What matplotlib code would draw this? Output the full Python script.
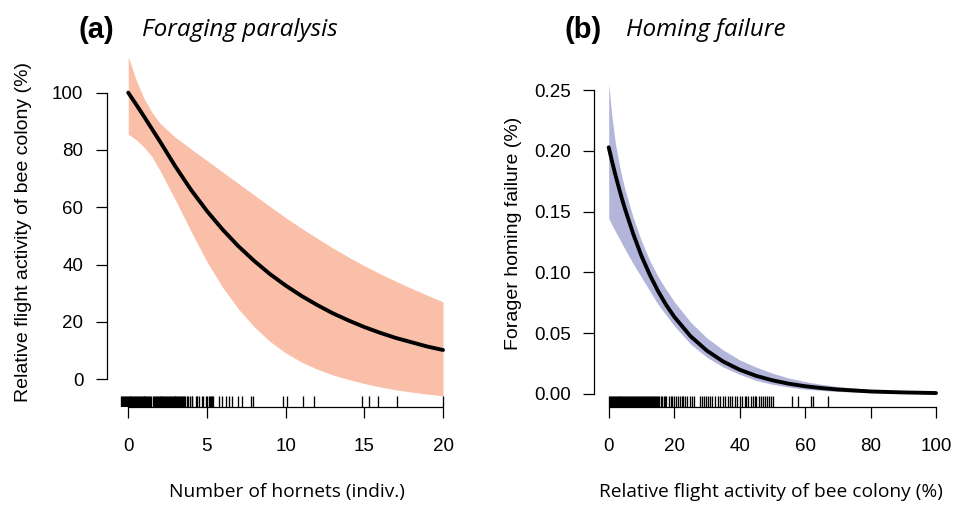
import matplotlib
matplotlib.use("Agg")
import matplotlib.pyplot as plt
from matplotlib.ticker import FormatStrFormatter

plt.rcParams['font.family'] = ['Liberation Sans', 'DejaVu Sans']

# ---- (a) foraging paralysis: fitted flight activity vs hornet number ----
hornets = [0, 0.5, 1, 1.5, 2, 3, 4, 5, 6, 7, 8, 9, 10,
           11, 12, 13, 14, 15, 16, 17, 18, 19, 20]
activity_fit = [100, 95.9, 91.7, 87.4, 83.1, 74.2, 66.0, 58.7, 52.2, 46.4, 41.3, 36.7, 32.7,
                29.1, 25.9, 23.0, 20.5, 18.2, 16.2, 14.4, 12.9, 11.4, 10.2]
activity_hi = [112.5, 104.5, 98.0, 93.2, 89.4, 84.4, 80.3, 76.3, 72.3, 68.3, 64.3, 60.3, 56.4,
               52.7, 49.2, 45.8, 42.6, 39.6, 36.8, 34.2, 31.7, 29.3, 27.0]
activity_lo = [85.5, 83.6, 81.0, 77.7, 73.0, 62.5, 51.5, 41.0, 32.0, 24.5, 18.3, 13.2, 9.2,
               6.0, 3.5, 1.5, -0.1, -1.5, -2.7, -3.7, -4.5, -5.2, -5.8]

# observed hornet counts (jittered), shown as rug
hornet_obs = [
    -0.46, -0.40, -0.34, -0.28, -0.22, -0.16, -0.10, -0.04, 0.02, 0.08, 0.14, 0.20, 0.26, 0.32, 0.38, 0.44, 0.47,
    0.55, 0.61, 0.67, 0.73, 0.79, 0.85, 0.91, 0.97, 1.03, 1.09, 1.15, 1.21, 1.27, 1.33, 1.39, 1.44,
    1.57, 1.63, 1.69, 1.75, 1.81, 1.87, 1.93, 1.99, 2.05, 2.11, 2.17, 2.23, 2.29, 2.35, 2.41, 2.47, 2.50,
    2.58, 2.64, 2.70, 2.76, 2.82, 2.88, 2.94, 3.00, 3.06, 3.12, 3.18, 3.24, 3.30, 3.36, 3.39,
    3.46, 3.54, 3.62, 3.72, 3.80, 3.92, 4.02, 4.08, 4.30, 4.40, 4.52, 4.68, 4.76, 4.92, 5.02,
    5.10, 5.20, 5.26, 5.34, 5.40, 5.76, 5.97, 6.18, 6.39, 6.60, 6.99, 7.20, 7.79, 7.90,
    9.84, 10.10, 11.10, 11.79, 14.88, 15.30, 15.87, 17.10, 20.0]

# ---- (b) homing failure vs flight activity ----
flight = [0, 1, 2, 3, 4, 5, 7.5, 10, 12.5, 15, 17.5, 20, 25, 30, 35, 40, 45, 50,
          55, 60, 65, 70, 80, 90, 100]
homing_fit = [0.203, 0.1916, 0.1808, 0.1707, 0.1611, 0.1521, 0.1316, 0.1136, 0.0983, 0.0849,
              0.0734, 0.0635, 0.0474, 0.0355, 0.0265, 0.0198, 0.0148, 0.0111,
              0.0083, 0.0062, 0.0047, 0.0035, 0.0019, 0.0011, 0.0006]
homing_hi = [0.255, 0.228, 0.207, 0.192, 0.179, 0.168, 0.145, 0.126, 0.110, 0.097,
             0.086, 0.076, 0.059, 0.046, 0.036, 0.028, 0.022, 0.017,
             0.013, 0.010, 0.0078, 0.006, 0.0035, 0.0021, 0.0012]
homing_lo = [0.1445, 0.139, 0.134, 0.129, 0.124, 0.119, 0.107, 0.096, 0.085, 0.074,
             0.065, 0.056, 0.041, 0.030, 0.022, 0.016, 0.011, 0.0078,
             0.0055, 0.0038, 0.0027, 0.0019, 0.0009, 0.0004, 0.0002]

flight_obs = [
    0.0, 0.3, 0.6, 0.9, 1.2, 1.5, 1.8, 2.1, 2.4, 2.7, 3.0, 3.3, 3.6, 3.9, 4.2, 4.5, 4.8,
    5.1, 5.4, 5.7, 6.0, 6.3, 6.6, 6.9, 7.2, 7.5, 7.8, 8.1, 8.4, 8.7, 9.0, 9.3, 9.6, 9.9,
    10.2, 10.5, 10.8, 11.1, 11.4, 11.7, 12.0, 12.3, 12.6, 12.9, 13.2, 13.5, 13.8, 14.1,
    14.4, 14.7, 15.0,
    15.5, 15.9, 16.3, 16.8, 17.2, 17.6, 18.4, 18.9, 19.4, 19.9, 20.5, 21.1, 21.8, 22.3,
    22.8, 23.4, 24.0, 24.8, 25.4, 26.2, 27.9, 28.6, 29.2, 29.7, 30.2, 30.9, 31.6, 32.4,
    33.3, 34.0, 34.8, 35.6, 36.3, 37.0, 37.8, 38.6, 39.3, 40.1, 40.6, 41.6, 42.1, 42.6,
    43.4, 44.1, 44.6, 45.1, 45.8, 46.4, 47.1, 47.8, 48.4, 49.0, 49.6, 50.3,
    55.9, 57.9, 61.7, 62.5, 67.1]

W, H = 961, 505
fig = plt.figure(figsize=(W / 100, H / 100), dpi=100)


def style_axis(ax):
    for s in ['top', 'right']:
        ax.spines[s].set_visible(False)
    for s in ['left', 'bottom']:
        ax.spines[s].set_linewidth(0.9)
    ax.tick_params(direction='out', length=8, width=0.9, labelsize=13.5)
    ax.tick_params(axis='x', pad=14)
    ax.tick_params(axis='y', pad=9)


# panel a
ax1 = fig.add_axes([107 / W, 98 / H, 348.6 / W, 364.2 / H])
ax1.fill_between(hornets, activity_lo, activity_hi, color='#F9BFA8', lw=0)
ax1.plot(hornets, activity_fit, color='black', lw=2.8, solid_capstyle='round')
ax1.vlines(hornet_obs, 0, 0.03, transform=ax1.get_xaxis_transform(), color='black', lw=0.95)
ax1.set_xlim(-1.35, 20.8)
ax1.set_ylim(-9.7, 117.4)
ax1.set_xticks([0, 5, 10, 15, 20])
ax1.set_yticks([0, 20, 40, 60, 80, 100])
ax1.spines['bottom'].set_bounds(0, 20)
ax1.spines['left'].set_bounds(0, 100)
style_axis(ax1)

# panel b
ax2 = fig.add_axes([594.3 / W, 98 / H, 354.8 / W, 364.2 / H])
ax2.fill_between(flight, homing_lo, homing_hi, color='#B4B5DB', lw=0)
ax2.plot(flight, homing_fit, color='black', lw=2.8, solid_capstyle='round')
ax2.vlines(flight_obs, 0, 0.03, transform=ax2.get_xaxis_transform(), color='black', lw=0.95)
ax2.set_xlim(-4.4, 104)
ax2.set_ylim(-0.0109, 0.2891)
ax2.set_xticks([0, 20, 40, 60, 80, 100])
ax2.set_yticks([0, 0.05, 0.10, 0.15, 0.20, 0.25])
ax2.yaxis.set_major_formatter(FormatStrFormatter('%.2f'))
ax2.spines['bottom'].set_bounds(0, 100)
ax2.spines['left'].set_bounds(0, 0.25)
style_axis(ax2)

# axis titles
fig.text(24 / W, 1 - 232 / H, 'Relative flight activity of bee colony (%)',
         rotation=90, ha='center', va='center', fontsize=14)
fig.text(513 / W, 1 - 233 / H, 'Forager homing failure (%)',
         rotation=90, ha='center', va='center', fontsize=14)
fig.text(287 / W, 1 - 497 / H, 'Number of hornets (indiv.)',
         ha='center', va='baseline', fontsize=13.8, family='Open Sans')
fig.text(771 / W, 1 - 497 / H, 'Relative flight activity of bee colony (%)',
         ha='center', va='baseline', fontsize=13.8, family='Open Sans')

# panel headings
fig.text(79 / W, 1 - 37.5 / H, '(a)', ha='left', va='baseline', fontsize=21, fontweight='bold')
fig.text(142 / W, 1 - 36 / H, 'Foraging paralysis', ha='left', va='baseline',
         fontsize=17.5, style='italic', family='Open Sans')
fig.text(564 / W, 1 - 37.5 / H, '(b)', ha='left', va='baseline', fontsize=21, fontweight='bold')
fig.text(626 / W, 1 - 36 / H, 'Homing failure', ha='left', va='baseline',
         fontsize=17.5, style='italic', family='Open Sans')

fig.savefig('out.png', dpi=100)
